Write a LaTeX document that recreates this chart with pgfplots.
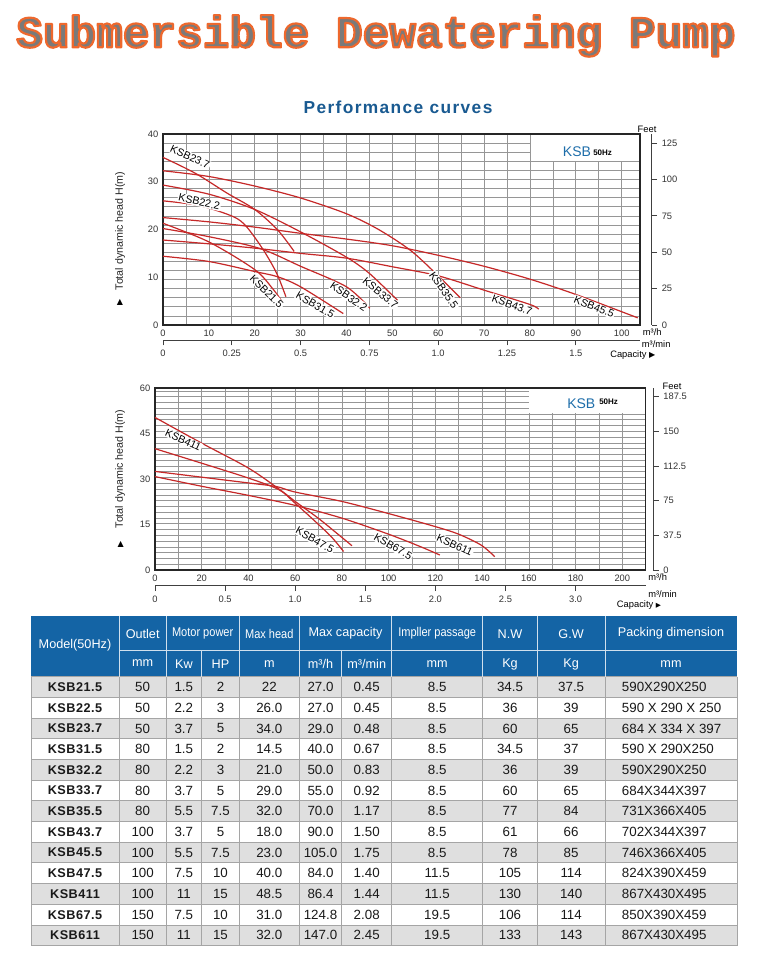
\documentclass[border=0pt]{standalone}
\usepackage{graphicx}
\usepackage{pgfplots}
\pgfplotsset{compat=1.18}
\usepackage{fontspec}
\setmainfont{Liberation Sans}
\newfontfamily\titlefont{Liberation Mono}
\newfontfamily\symfont{DejaVu Sans}
\newfontfamily\narrowfont[FakeStretch=0.87]{Liberation Sans}
\newfontfamily\spacedfont[LetterSpace=8]{Liberation Sans}
\newfontfamily\modelfont[LetterSpace=4]{Liberation Sans}

\definecolor{curve}{RGB}{198,40,40}
\definecolor{hdrblue}{RGB}{20,100,165}
\definecolor{rowgray}{RGB}{223,223,223}
\definecolor{tblline}{RGB}{165,165,165}
\definecolor{gridc}{RGB}{150,150,150}
\definecolor{ksbblue}{RGB}{30,110,170}
\definecolor{perfblue}{RGB}{25,90,145}
\definecolor{titlegray}{RGB}{122,122,122}

\pgfplotsset{
  /pgf/number format/assume math mode=true,
  chart/.style={
    scale only axis, clip=false,
    axis line style={black!85, line width=0.8pt},
    tick label style={font=\fontsize{7}{8}\selectfont, text=black!80},
    major tick length=0pt, minor tick length=0pt,
    xmajorgrids, xminorgrids, yminorgrids,
    grid style={gridc, line width=0.5pt},
    minor grid style={gridc, line width=0.5pt},
    every axis plot post/.append style={curve, solid, line width=0.9pt, smooth, mark=none},
  },
  sideaxis/.style={
    scale only axis,
    axis line style={black!75, line width=0.6pt},
    tick style={black!75, line width=0.6pt},
    tick label style={font=\fontsize{7}{8}\selectfont, text=black!80},
    tick align=outside, major tick length=4pt,
  },
}
\tikzset{curvelabel/.style={font=\fontsize{8}{9}\selectfont, fill=white, inner sep=0.6pt}}

% outlined title: gray fill, orange stroke (text render mode 2)
\newcommand\titletext{{\titlefont\bfseries\fontsize{33.3}{36}\selectfont\color{titlegray}%
  \special{pdf:literal direct 2 Tr 1.6 w 1 j 0.933 0.408 0.176 RG}Submersible Dewatering Pump\special{pdf:literal direct 0 Tr}}}

\begin{document}
\begin{tikzpicture}
\begin{scope}[x=0.75pt,y=-0.75pt]
\path[use as bounding box] (0,0) rectangle (760,953);
\fill[white] (0,0) rectangle (760,953);
\end{scope}

% ---------- chart 1 ----------
\begin{axis}[chart,
  at={(122.25pt,-243.75pt)}, anchor=south west,
  width=357.75pt, height=143.25pt,
  xmin=0, xmax=104, ymin=0, ymax=40,
  xtick={0,10,...,100}, minor xtick={5,15,...,95},
  ytick={0,10,...,40}, minor ytick={1.905,3.81,...,38.2},
]
\fill[white] (axis cs:80.15,34.45) rectangle (axis cs:104,40);
\draw[black!85, line width=0.8pt] (rel axis cs:0,0) rectangle (rel axis cs:1,1);
\addplot coordinates {(0,35.1) (7,31.8) (14,27.6) (20,24.2) (25,19.9) (28.6,15.4)};
\addplot coordinates {(0,32.3) (10,31.1) (20,29.1) (30,26.6) (40,23.3) (47,20) (54,15.6) (60,10.3) (64.8,5.7)};
\addplot coordinates {(0,29.3) (10,27.4) (20,24.2) (30,19.5) (40,14.2) (45,10.8) (51.1,5.2)};
\addplot coordinates {(0,26) (8,25) (15.3,22.7) (18.2,20.6) (21.9,15.7) (24.8,10.8) (26.8,5.9)};
\addplot coordinates {(0,22.5) (10,21.6) (20,20.5) (30,19.2) (40,18) (50,16.6) (60,14.6) (70,12.3) (80,9.6) (90,6.4) (103.5,1.5)};
\addplot coordinates {(0,21.3) (10,17.4) (20,11.6) (24,7.5) (26.1,4.7)};
\addplot coordinates {(0,20.2) (10,18.5) (21.2,16) (30,12.3) (40,8) (45.1,3.5)};
\addplot coordinates {(0,17.8) (10,17) (20,16.1) (30,15) (40,14) (50,12.2) (60,10.3) (70,7.3) (80,4.3) (81.9,3.3)};
\addplot coordinates {(0,14.4) (10,13.3) (20,11.2) (25,10.1) (30,8) (39.3,2.4)};
\node[curvelabel, rotate=-25] at (axis cs:5.9,35.2) {KSB23.7};
\node[curvelabel, rotate=-13] at (axis cs:7.9,25.8) {KSB22.2};
\node[curvelabel, rotate=-45] at (axis cs:22.6,7.0) {KSB21.5};
\node[curvelabel, rotate=-30] at (axis cs:33.2,4.2) {KSB31.5};
\node[curvelabel, rotate=-35] at (axis cs:40.5,5.9) {KSB32.2};
\node[curvelabel, rotate=-40] at (axis cs:47.4,6.7) {KSB33.7};
\node[curvelabel, rotate=-55] at (axis cs:61.2,7.3) {KSB35.5};
\node[curvelabel, rotate=-20] at (axis cs:76.1,4.2) {KSB43.7};
\node[curvelabel, rotate=-22] at (axis cs:94.0,3.8) {KSB45.5};
\end{axis}

\begin{axis}[sideaxis,
  at={(122.25pt,-255pt)}, anchor=south west,
  width=357.75pt, height=10pt,
  xmin=0, xmax=1.7333, ymin=0, ymax=1,
  hide y axis, axis x line*=bottom,
  xtick={0,0.25,0.5,0.75,1,1.25,1.5},
  xticklabels={0,0.25,0.5,0.75,1.0,1.25,1.5},
]
\end{axis}

\begin{axis}[sideaxis,
  at={(488.8pt,-243.75pt)}, anchor=south east,
  width=20pt, height=143.25pt,
  xmin=0, xmax=1, ymin=0, ymax=131.23,
  hide x axis, axis y line*=right,
  ytick={0,25,...,125},
]
\end{axis}

% ---------- chart 2 ----------
\begin{axis}[chart,
  at={(116.25pt,-427.5pt)}, anchor=south west,
  width=368pt, height=136.5pt,
  xmin=0, xmax=210, ymin=0, ymax=60,
  xtick={0,20,...,200}, minor xtick={10,30,...,190},
  ytick={0,15,...,60}, minor ytick={1.905,3.81,...,59.1},
]
\fill[white] (axis cs:160.2,51.6) rectangle (axis cs:210,60);
\draw[black!85, line width=0.8pt] (rel axis cs:0,0) rectangle (rel axis cs:1,1);
\addplot coordinates {(0,50.3) (20,41.8) (40,33.6) (53.6,26.4) (60,22.6) (70,17) (78,12) (84.3,8)};
\addplot coordinates {(0,40) (20,35.2) (40,30.3) (53,26.5) (60,22) (70,15) (76,10.5) (80.7,6.1)};
\addplot coordinates {(0,30.8) (20,27.6) (40,24.6) (60,21.3) (80,17.1) (100,11.8) (113.6,7.7) (121.9,4.95)};
\addplot coordinates {(0,32.5) (20,30.6) (40,28.7) (52,27.5) (60,25.7) (80,22.6) (100,18.6) (120,14.3) (130,11.8) (139.6,8.2) (145.4,4.4)};
\node[curvelabel, rotate=-25] at (axis cs:12.1,42.9) {KSB411};
\node[curvelabel, rotate=-30] at (axis cs:68.4,9.9) {KSB47.5};
\node[curvelabel, rotate=-30] at (axis cs:101.9,7.7) {KSB67.5};
\node[curvelabel, rotate=-25] at (axis cs:128.3,8.25) {KSB611};
\end{axis}

\begin{axis}[sideaxis,
  at={(116.25pt,-439.3pt)}, anchor=south west,
  width=368pt, height=10pt,
  xmin=0, xmax=3.5, ymin=0, ymax=1,
  hide y axis, axis x line*=bottom,
  xtick={0,0.5,1,1.5,2,2.5,3},
  xticklabels={0,0.5,1.0,1.5,2.0,2.5,3.0},
]
\end{axis}

\begin{axis}[sideaxis,
  at={(490pt,-427.5pt)}, anchor=south east,
  width=20pt, height=136.5pt,
  xmin=0, xmax=1, ymin=0, ymax=196.85,
  hide x axis, axis y line*=right,
  ytick={0,37.5,75,112.5,150,187.5},
]
\end{axis}

\begin{scope}[x=0.75pt,y=-0.75pt]
% title
\node[anchor=base, inner sep=0pt] at (376,47.3) {\titletext};
\node[anchor=base, text=perfblue, font=\spacedfont\bfseries\fontsize{13}{14}\selectfont] at (398,113) {Performance curves};

% chart 1 annotations
\node[anchor=west, text=ksbblue, inner sep=0pt, font=\fontsize{10.5}{12}\selectfont] at (562.7,151.3) {KSB};
\node[anchor=west, inner sep=0pt, font=\bfseries\fontsize{6}{7}\selectfont] at (593,152.7) {50Hz};
\node[rotate=90, font=\fontsize{8}{9}\selectfont, text=black!85] at (120,231) {Total dynamic head H(m)};
\node[font=\symfont\fontsize{6}{7}\selectfont] at (120,302) {▲};
\node[font=\fontsize{7}{8}\selectfont] at (647,129) {Feet};
\node[anchor=west, inner sep=0pt, font=\fontsize{7}{8}\selectfont] at (642.7,332.3) {m³/h};
\node[anchor=west, inner sep=0pt, font=\fontsize{7}{8}\selectfont] at (641.7,344) {m³/min};
\node[anchor=west, inner sep=0pt, font=\fontsize{7}{8}\selectfont] at (610,355) {Capacity \symfont\fontsize{6}{7}\selectfont ▶};

% chart 2 annotations
\node[anchor=west, text=ksbblue, inner sep=0pt, font=\fontsize{10.5}{12}\selectfont] at (567,404) {KSB};
\node[anchor=west, inner sep=0pt, font=\bfseries\fontsize{6}{7}\selectfont] at (599,402) {50Hz};
\node[rotate=90, font=\fontsize{8}{9}\selectfont, text=black!85] at (120,469) {Total dynamic head H(m)};
\node[font=\symfont\fontsize{6}{7}\selectfont] at (120.7,544.3) {▲};
\node[font=\fontsize{7}{8}\selectfont] at (672,386) {Feet};
\node[anchor=west, inner sep=0pt, font=\fontsize{7}{8}\selectfont] at (648,577) {m³/h};
\node[anchor=west, inner sep=0pt, font=\fontsize{7}{8}\selectfont] at (648,594) {m³/min};
\node[anchor=west, inner sep=0pt, font=\fontsize{7}{8}\selectfont] at (616.7,605) {Capacity \symfont\fontsize{5}{6}\selectfont ▶};

% ---------- table ----------
\fill[hdrblue] (31,616) rectangle (737,676.7);
\foreach \m/\a/\b/\c/\d/\e/\f/\g/\h/\i/\j [count=\r] in {
  KSB21.5/50/1.5/2/22/27.0/0.45/8.5/34.5/37.5/590X290X250,
  KSB22.5/50/2.2/3/26.0/27.0/0.45/8.5/36/39/590 X 290 X 250,
  KSB23.7/50/3.7/5/34.0/29.0/0.48/8.5/60/65/684 X 334 X 397,
  KSB31.5/80/1.5/2/14.5/40.0/0.67/8.5/34.5/37/590 X 290X250,
  KSB32.2/80/2.2/3/21.0/50.0/0.83/8.5/36/39/590X290X250,
  KSB33.7/80/3.7/5/29.0/55.0/0.92/8.5/60/65/684X344X397,
  KSB35.5/80/5.5/7.5/32.0/70.0/1.17/8.5/77/84/731X366X405,
  KSB43.7/100/3.7/5/18.0/90.0/1.50/8.5/61/66/702X344X397,
  KSB45.5/100/5.5/7.5/23.0/105.0/1.75/8.5/78/85/746X366X405,
  KSB47.5/100/7.5/10/40.0/84.0/1.40/11.5/105/114/824X390X459,
  KSB411/100/11/15/48.5/86.4/1.44/11.5/130/140/867X430X495,
  KSB67.5/150/7.5/10/31.0/124.8/2.08/19.5/106/114/850X390X459,
  KSB611/150/11/15/32.0/147.0/2.45/19.5/133/143/867X430X495}{
  \pgfmathsetmacro\yc{676.7+(\r-0.5)*20.69}
  \ifodd\r \fill[rowgray] (31,\yc-10.345) rectangle (737,\yc+10.345); \fi
  \begin{scope}[every node/.style={font=\fontsize{10}{12}\selectfont, text=black!90, inner sep=0pt}]
  \node[font=\modelfont\bfseries\fontsize{9.5}{12}\selectfont] at (75,\yc) {\m};
  \node at (142.65,\yc) {\a};
  \node at (183.85,\yc) {\b};
  \node at (220.5,\yc) {\c};
  \node at (269.3,\yc) {\d};
  \node at (320.5,\yc) {\e};
  \node at (366.7,\yc) {\f};
  \node at (437.2,\yc) {\g};
  \node at (510,\yc) {\h};
  \node at (571.15,\yc) {\i};
  \node[anchor=west] at (621.7,\yc) {\j};
  \end{scope}
}
% body grid lines
\foreach \r in {0,...,13}
  \draw[tblline, line width=0.7pt] (31,676.7+\r*20.69) -- (737,676.7+\r*20.69);
\foreach \x in {31,119.3,166,201.7,239.3,299.3,341.7,391.7,482.7,537.3,605,737}
  \draw[tblline, line width=0.7pt] (\x,676.7) -- (\x,945.67);
% header lines
\draw[white!80!hdrblue, line width=0.7pt] (119.3,650.7) -- (737,650.7);
\foreach \x in {119.3,166,239.3,299.3,391.7,482.7,537.3,605}
  \draw[white!80!hdrblue, line width=0.7pt] (\x,616) -- (\x,676.7);
\foreach \x in {201.7,341.7}
  \draw[white!80!hdrblue, line width=0.7pt] (\x,650.7) -- (\x,676.7);
\begin{scope}[every node/.style={text=white, inner sep=0pt, font=\fontsize{9.5}{11}\selectfont}]
\node at (75,645) {Model(50Hz)};
\node at (142.65,634) {Outlet};
\node[font=\narrowfont\fontsize{9.5}{11}\selectfont] at (202.65,633) {Motor power};
\node[font=\narrowfont\fontsize{9.5}{11}\selectfont] at (269.3,634) {Max head};
\node at (345.5,633) {Max capacity};
\node[font=\narrowfont\fontsize{9.5}{11}\selectfont] at (437.2,633) {Impller passage};
\node at (510,634) {N.W};
\node at (571.15,634) {G.W};
\node at (671,633) {Packing dimension};
\node at (142.65,663) {mm};
\node at (183.85,664) {Kw};
\node at (220.5,664) {HP};
\node at (269.3,664) {m};
\node at (320.5,664) {m³/h};
\node at (366.7,664) {m³/min};
\node at (437.2,664) {mm};
\node at (510,664) {Kg};
\node at (571.15,664) {Kg};
\node at (671,664) {mm};
\end{scope}
\end{scope}
\end{tikzpicture}
\end{document}
